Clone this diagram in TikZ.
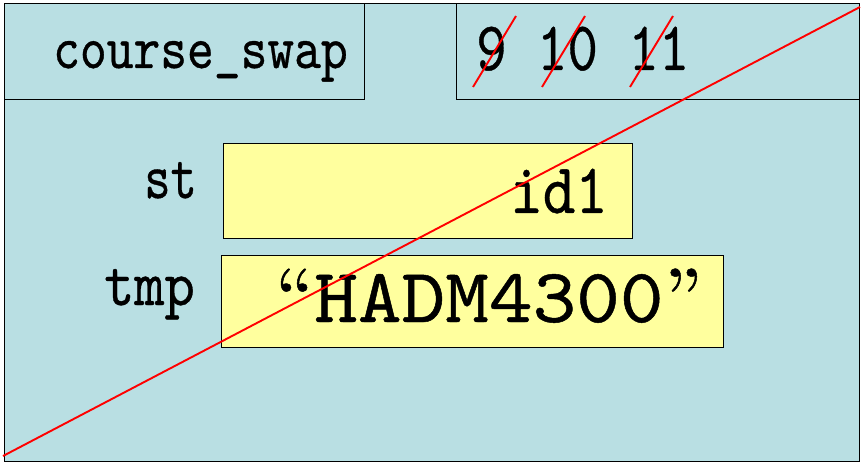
\documentclass[tikz,border=0pt]{standalone}
\usepackage{graphicx}
\usepackage{fontspec}
\newfontfamily\twfont{lmmono10-regular.otf}[FakeBold=0.6]
\newfontfamily\qfont{lmroman10-regular.otf}[FakeBold=0.6]
\definecolor{bgblue}{HTML}{B9DFE3}
\definecolor{valyellow}{HTML}{FFFF9E}
\begin{document}
\begin{tikzpicture}[x=1pt,y=-1pt,
  frame/.style={draw=black, line width=1.4pt, fill=bgblue, inner sep=0pt},
  valbox/.style={draw=black, line width=1.4pt, fill=valyellow, inner sep=0pt},
  strike/.style={draw=red, line width=1.9pt},
  txt/.style={inner sep=0pt, font=\twfont}]
\useasboundingbox (0,0) rectangle (861,462);
\node[frame, anchor=north west, minimum width=855pt, minimum height=458pt] (outer) at (4,3) {};
\node[frame, anchor=north west, minimum width=360pt, minimum height=96pt] (namebox) at (4,3) {};
\node[frame, anchor=north west, minimum width=403pt, minimum height=96pt] (linebox) at (456,3) {};
\node[valbox, anchor=north west, minimum width=409pt, minimum height=95pt] (stbox) at (223,143) {};
\node[valbox, anchor=north west, minimum width=502pt, minimum height=92pt] (tmpbox) at (221,255) {};
\node[txt, anchor=base west] (cs) at (53,68) {\fontsize{51}{51}\selectfont\scalebox{1}[1.2]{course\_swap}};
\node[txt, anchor=base west] (nums) at (476,70) {\fontsize{58}{58}\selectfont\scalebox{1}[1.2]{9 10 11}};
\node[txt, anchor=base east] (stlab) at (197,198) {\fontsize{50}{50}\selectfont\scalebox{1}[1.3]{st}};
\node[txt, anchor=base east] (tmplab) at (195,305) {\fontsize{50}{50}\selectfont\scalebox{1.15}[1.3]{tmp}};
\node[txt, anchor=base east] (stval) at (608,213) {\fontsize{62}{62}\selectfont\scalebox{1}[1.15]{id1}};
\node[txt, anchor=base east] (tmpval) at (703,322) {\fontsize{77}{77}\selectfont\scalebox{1.08}[1]{{\qfont “}HADM4300{\qfont ”}}};
\coordinate (s9a) at (473,87); \coordinate (s9b) at (516,16);
\coordinate (s10a) at (542,87); \coordinate (s10b) at (585,16);
\coordinate (s11a) at (630,87); \coordinate (s11b) at (673,16);
\draw[strike] (s9a) -- (s9b);
\draw[strike] (s10a) -- (s10b);
\draw[strike] (s11a) -- (s11b);
\coordinate (dA) at (3,456); \coordinate (dB) at (860,7);
\draw[strike] (dA) -- (dB);
\end{tikzpicture}
\end{document}
